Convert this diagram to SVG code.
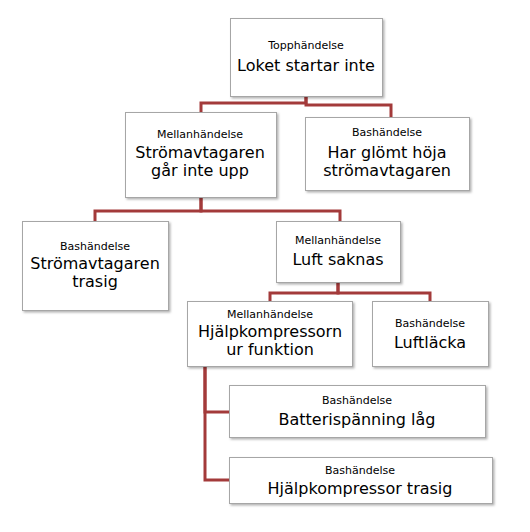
<svg xmlns="http://www.w3.org/2000/svg" width="530" height="532" viewBox="0 0 530 532">
<defs>
<filter id="sh" x="-10%" y="-10%" width="130%" height="130%">
<feDropShadow dx="1.5" dy="1.5" stdDeviation="1" flood-color="#000" flood-opacity="0.3"/>
</filter>
</defs>
<style>
.box{fill:#fff;stroke:#a6a6a6;stroke-width:1;filter:url(#sh)}
.lbl{font-family:"DejaVu Sans",Verdana,sans-serif;font-size:11px;fill:#000;text-anchor:middle}
.main{font-family:"DejaVu Sans",Verdana,sans-serif;font-size:16px;fill:#000;text-anchor:middle}
.c{fill:none;stroke:#a33a3a;stroke-width:3}
</style>
<rect width="530" height="532" fill="#fff"/>
<g id="connectors">
<path class="c" d="M306,96 V103 H201 V112"/>
<path class="c" d="M306,96 V105 H391 V117"/>
<path class="c" d="M201,197 V211 H95 V221"/>
<path class="c" d="M201,197 V211 H340 V221"/>
<path class="c" d="M338,282 V293 H270 V301"/>
<path class="c" d="M338,282 V293 H430 V301"/>
<path class="c" d="M205,366 V412 H229"/>
<path class="c" d="M205,366 V480 H229"/>
</g>
<g id="top">
<rect class="box" x="230.500" y="18.500" width="152" height="78"/>
<text class="lbl" x="306" y="49">Topphändelse</text>
<text class="main" x="306" y="71">Loket startar inte</text>
</g>
<g id="m1">
<rect class="box" x="125.500" y="112.500" width="151" height="85"/>
<text class="lbl" x="200" y="138">Mellanhändelse</text>
<text class="main" x="200" y="158">Strömavtagaren</text>
<text class="main" x="200" y="176">går inte upp</text>
</g>
<g id="b1">
<rect class="box" x="305.500" y="117.500" width="164" height="73"/>
<text class="lbl" x="387" y="136">Bashändelse</text>
<text class="main" x="387" y="158">Har glömt höja</text>
<text class="main" x="387" y="176">strömavtagaren</text>
</g>
<g id="b2">
<rect class="box" x="22.500" y="221.500" width="146" height="89"/>
<text class="lbl" x="95" y="250">Bashändelse</text>
<text class="main" x="95" y="269">Strömavtagaren</text>
<text class="main" x="95" y="287">trasig</text>
</g>
<g id="m2">
<rect class="box" x="276.500" y="221.500" width="124" height="61"/>
<text class="lbl" x="338" y="244">Mellanhändelse</text>
<text class="main" x="338" y="265">Luft saknas</text>
</g>
<g id="m3">
<rect class="box" x="187.500" y="301.500" width="165" height="65"/>
<text class="lbl" x="270" y="318">Mellanhändelse</text>
<text class="main" x="270" y="337">Hjälpkompressorn</text>
<text class="main" x="270" y="355">ur funktion</text>
</g>
<g id="b3">
<rect class="box" x="372.500" y="301.500" width="116" height="65"/>
<text class="lbl" x="430" y="327">Bashändelse</text>
<text class="main" x="430" y="348">Luftläcka</text>
</g>
<g id="b4">
<rect class="box" x="229.500" y="385.500" width="256" height="52"/>
<text class="lbl" x="357" y="404">Bashändelse</text>
<text class="main" x="357" y="425">Batterispänning låg</text>
</g>
<g id="b5">
<rect class="box" x="229.500" y="457.500" width="263" height="46"/>
<text class="lbl" x="360" y="474">Bashändelse</text>
<text class="main" x="360" y="494">Hjälpkompressor trasig</text>
</g>
</svg>
